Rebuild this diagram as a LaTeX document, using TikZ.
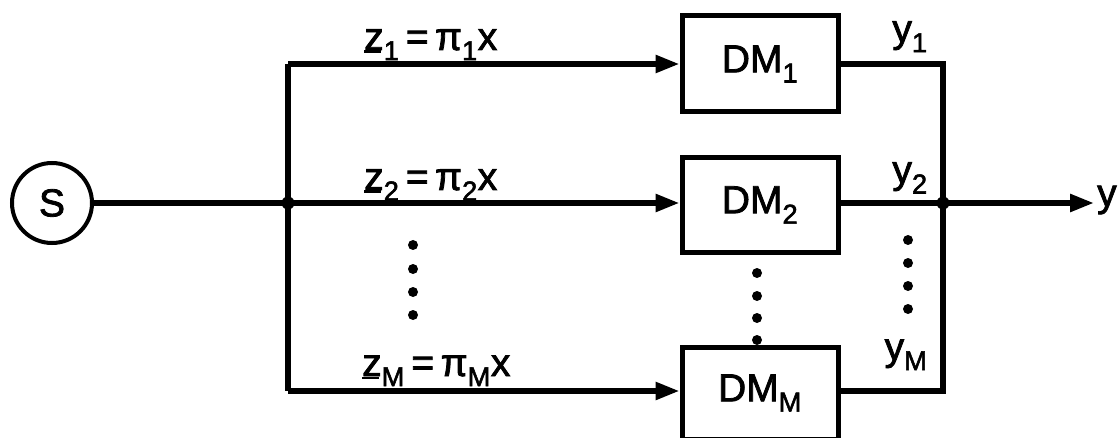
\documentclass[tikz,border=0pt]{standalone}
\usepackage{fontspec}
\setmainfont{Liberation Sans}[FakeBold=2]
\usetikzlibrary{arrows.meta}
\newcommand{\uz}{\rlap{\rule[-3pt]{17pt}{2.5pt}}z}
\begin{document}
\begin{tikzpicture}[x=1pt,y=-1pt,
  wire/.style={line width=5.5pt},
  arr/.style={wire,-{Stealth[length=24pt,width=17pt,inset=0pt]}},
  box/.style={draw,line width=5pt,minimum width=156pt,inner sep=0pt,font=\fontsize{39}{41}\selectfont},
  lbl/.style={inner sep=0pt,font=\fontsize{39}{41}\selectfont},
  dotm/.style={fill,circle,inner sep=0pt,minimum size=10pt}]
\useasboundingbox (0,0) rectangle (1118,438);
% source
\node[draw,circle,line width=4pt,minimum size=80pt,inner sep=0pt,font=\fontsize{39}{41}\selectfont] (S) at (52,203) {S};
% boxes
\node[box,minimum height=96pt] (D1) at (760,64) {DM\textsubscript{1}};
\node[box,minimum height=95pt] (D2) at (760,205) {DM\textsubscript{2}};
\node[box,minimum height=92pt] (DM) at (760,393) {DM\textsubscript{M}};
% junctions
\coordinate (J1) at (288,64);
\coordinate (J) at (288,203);
\coordinate (JM) at (288,391);
\coordinate (K1) at (943,64);
\coordinate (K) at (943,203);
\coordinate (KM) at (943,391);
\coordinate (Yend) at (1094,203);
% wires
\draw[wire] (S) -- (J);
\draw[wire,line join=round] (J1) -- (JM);
\draw[arr] (J1) -- (J1 -| D1.west);
\draw[arr] (J) -- (J -| D2.west);
\draw[arr] (JM) -- (JM -| DM.west);
\draw[wire] (D1.east |- K1) -- (K1) -- (KM) -- (DM.east |- KM);
\draw[wire] (D2.east |- K) -- (K);
\draw[arr] (K) -- (Yend);
\node[dotm,minimum size=13pt] (jd) at (J) {};
\node[dotm,minimum size=13pt] (kd) at (K) {};
% output label
\node[lbl,anchor=west] (y) at (1097,200) {y};
% input labels
\node[lbl,anchor=base west] (z1) at (364,50) {\uz\textsubscript{1}\,=\,π\textsubscript{1}x};
\node[lbl,anchor=base west] (z2) at (364,190) {\uz\textsubscript{2}\,=\,π\textsubscript{2}x};
\node[lbl,anchor=base west] (zM) at (362,376) {\uz\textsubscript{M}\,=\,π\textsubscript{M}x};
% output labels
\node[lbl,anchor=base] (y1) at (910,42) {y\textsubscript{1}};
\node[lbl,anchor=base] (y2) at (910,183) {y\textsubscript{2}};
\node[lbl,anchor=base] (yM) at (906,360) {y\textsubscript{M}};
% dots
\foreach \yy [count=\i] in {245,269,292,315} \node[dotm] (da\i) at (413,\yy) {};
\foreach \yy [count=\i] in {273,296,318,340} \node[dotm] (db\i) at (757,\yy) {};
\foreach \yy [count=\i] in {240,263,286,309} \node[dotm] (dc\i) at (908,\yy) {};
\end{tikzpicture}
\end{document}
